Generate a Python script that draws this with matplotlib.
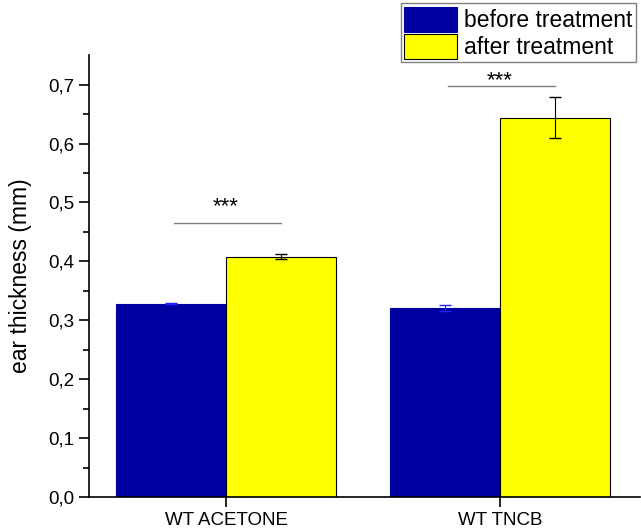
import numpy as np
import matplotlib.pyplot as plt

plt.rcParams['font.family'] = ['Liberation Sans', 'DejaVu Sans']

groups = ['WT ACETONE', 'WT TNCB']
before = [0.328, 0.321]
before_err = [0.001, 0.005]
after = [0.408, 0.644]
after_err = [0.004, 0.035]
sig_y = [0.466, 0.697]
star_y = [0.504, 0.719]
sig_txt = ['***', '***']

x = np.arange(1, len(groups) + 1)
w = 0.4

fig = plt.figure(figsize=(6.41, 5.31), dpi=100)
ax = fig.add_axes([0.139, 0.064, 0.859, 0.832])

b1 = ax.bar(x - w/2, before, w, color='#0000a0', edgecolor='#0000a0', linewidth=0.8,
            label='before treatment')
ax.errorbar(x - w/2, before, yerr=before_err, fmt='none', ecolor='#2020ff',
            elinewidth=0.8, capsize=4)
b2 = ax.bar(x + w/2, after, w, color='#ffff00', edgecolor='black', linewidth=0.8,
            label='after treatment')
ax.errorbar(x + w/2, after, yerr=after_err, fmt='none', ecolor='black',
            elinewidth=0.8, capsize=4)

# significance lines + stars (star_y = centre of the asterisks)
for xi, yi, sy, t in zip(x, sig_y, star_y, sig_txt):
    ax.plot([xi - 0.19, xi + 0.2], [yi, yi], color='#808080', linewidth=1)
    ax.annotate(t, (xi, sy), xytext=(0, -9), textcoords='offset points',
                ha='center', va='baseline', fontsize=16)

ax.set_xlim(0.5, 2.51)
ax.set_ylim(0, 0.75)
ax.set_xticks(x)
ax.set_xticklabels(groups, fontsize=13.5)
ax.set_yticks(np.arange(0, 0.71, 0.1))
ax.set_yticklabels([('%.1f' % v).replace('.', ',') for v in np.arange(0, 0.71, 0.1)],
                   fontsize=13.5)
ax.set_yticks(np.arange(0.05, 0.75, 0.1), minor=True)
ax.tick_params(axis='both', which='major', direction='out', length=7, width=1.2)
ax.tick_params(axis='y', which='minor', direction='out', length=4, width=1.2)
ax.set_ylabel('ear thickness (mm)', fontsize=16.5, labelpad=12)

ax.spines['top'].set_visible(False)
ax.spines['right'].set_visible(False)
ax.spines['left'].set_linewidth(1.2)
ax.spines['bottom'].set_linewidth(1.2)

leg = fig.legend(handles=[b1, b2], loc='upper right', bbox_to_anchor=(0.992, 0.994),
                 fontsize=16.5, frameon=True, fancybox=False, edgecolor='#606060',
                 handlelength=2.3, handleheight=1.3, handletextpad=0.3,
                 borderpad=0.15, labelspacing=0.08, borderaxespad=0)
leg.get_frame().set_linewidth(1)

fig.savefig('out.png', dpi=100)
